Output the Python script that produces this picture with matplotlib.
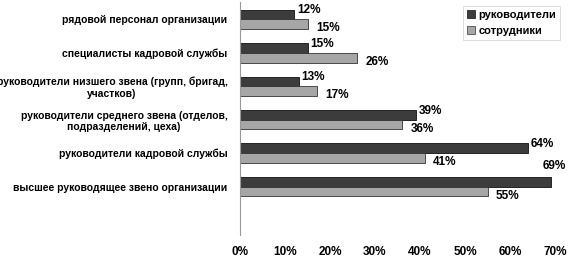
import matplotlib
matplotlib.use("Agg")
import matplotlib.pyplot as plt
import numpy as np
from matplotlib.patches import Patch

plt.rcParams["font.family"] = ["Liberation Sans", "DejaVu Sans"]
plt.rcParams["font.weight"] = "bold"

categories = [
    "рядовой персонал организации",
    "специалисты кадровой службы",
    "руководители низшего звена (групп, бригад,\nучастков)",
    "руководители среднего звена (отделов,\nподразделений, цеха)",
    "руководители кадровой службы",
    "высшее руководящее звено организации",
]
managers = [12, 15, 13, 39, 64, 69]
employees = [15, 26, 17, 36, 41, 55]
series_names = ["руководители", "сотрудники"]
x_ticks = [0, 10, 20, 30, 40, 50, 60, 70]

dark = "#3c3c3c"
light = "#a6a6a6"

fig = plt.figure(figsize=(5.68, 2.61), dpi=100)
ax = fig.add_axes([240 / 568, 1 - 235 / 261, 315 / 568, 233 / 261])

y = np.arange(len(categories))
h = 0.29
ax.barh(y - h / 2, managers, height=h, color=dark, edgecolor="#111111", linewidth=0.6)
ax.barh(y + h / 2, employees, height=h, color=light, edgecolor="#333333", linewidth=0.6)

for i, (m, e) in enumerate(zip(managers, employees)):
    if i == len(categories) - 1:
        # no room on the right, label goes above the bar
        ax.annotate(f"{m}%", (m, y[i] - h / 2), xytext=(-6, 11), textcoords="offset points",
                    ha="left", va="center", fontsize=8.5)
    else:
        ax.annotate(f"{m}%", (m, y[i] - h / 2), xytext=(2, 3), textcoords="offset points",
                    ha="left", va="center", fontsize=8.5)
    ax.annotate(f"{e}%", (e, y[i] + h / 2), xytext=(6, -3), textcoords="offset points",
                ha="left", va="center", fontsize=8.5)

ax.set_xlim(0, 70)
ax.set_ylim(6.45, -0.52)
ax.set_xticks(x_ticks)
ax.set_xticklabels([f"{t}%" for t in x_ticks], fontsize=8.5)
ax.set_yticks(y)
ax.set_yticklabels(categories, fontsize=7.5, multialignment="center")
ax.tick_params(axis="both", length=0)
ax.tick_params(axis="x", pad=8)
ax.tick_params(axis="y", pad=9)

for s in ["top", "right", "bottom"]:
    ax.spines[s].set_visible(False)
ax.spines["left"].set_color("#999999")
ax.spines["left"].set_linewidth(0.8)

handles = [Patch(facecolor=dark, edgecolor="#111111", linewidth=0.5),
           Patch(facecolor=light, edgecolor="#333333", linewidth=0.5)]
leg = fig.legend(handles, series_names, loc="upper right", bbox_to_anchor=(566 / 568, 1.0),
                 fontsize=8, frameon=True, fancybox=False, handlelength=0.7, handleheight=0.7,
                 handletextpad=0.3, borderpad=0.4, labelspacing=0.5)
leg.get_frame().set_edgecolor("#cccccc")
leg.get_frame().set_linewidth(0.6)

fig.savefig("out.png", dpi=100)
